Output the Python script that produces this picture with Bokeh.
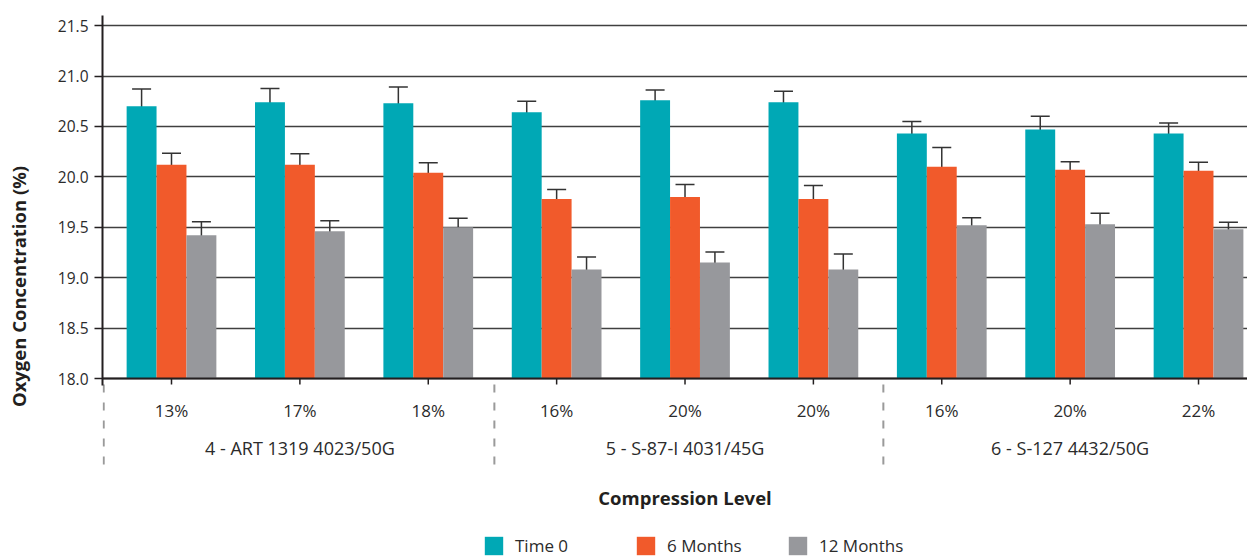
import numpy as np
from bokeh.plotting import figure
from bokeh.models import (ColumnDataSource, Whisker, TeeHead, FixedTicker,
                          Range1d, Legend, LegendItem, Span)
from bokeh.core.properties import value
from bokeh.embed import file_html
from bokeh.resources import INLINE

# ---------------- data ----------------
compression = ["13%", "17%", "18%", "16%", "20%", "20%", "16%", "20%", "22%"]
materials = ["4 - ART 1319 4023/50G", "5 - S-87-I 4031/45G", "6 - S-127 4432/50G"]
material_center_index = [1, 4, 7]
series_names = ["Time 0", "6 Months", "12 Months"]

time0 = [20.70, 20.74, 20.73, 20.64, 20.76, 20.74, 20.43, 20.47, 20.43]
time0_err = [0.17, 0.135, 0.16, 0.11, 0.10, 0.11, 0.12, 0.13, 0.105]
months6 = [20.12, 20.12, 20.04, 19.78, 19.80, 19.78, 20.10, 20.07, 20.06]
months6_err = [0.115, 0.11, 0.10, 0.095, 0.125, 0.135, 0.19, 0.08, 0.085]
months12 = [19.42, 19.46, 19.50, 19.08, 19.15, 19.08, 19.52, 19.53, 19.48]
months12_err = [0.135, 0.105, 0.09, 0.125, 0.105, 0.155, 0.075, 0.11, 0.07]

y_ticks = [18.0, 18.5, 19.0, 19.5, 20.0, 20.5, 21.0, 21.5]
y_tick_labels = ["18.0", "18.5", "19.0", "19.5", "20.0", "20.5", "21.0", "21.5"]
y_min, y_max = 18.0, 21.6
x_title = "Compression Level"
y_title = "Oxygen Concentration (%)"

colors = ["#00A8B5", "#F15A2B", "#97989C"]

# ---------------- layout constants (pixels) ----------------
FONT = "Open Sans"
TXT = "#2b2b2b"
DARK = "#231f20"
W, H = 1247, 557
FRAME_LEFT, FRAME_TOP = 102, 15
AXIS_PX = 378                          # y pixel of the value 18.0
PPU = (AXIS_PX - FRAME_TOP) / (y_max - y_min)      # pixels per y unit
y_lo = y_min - (H - AXIS_PX) / PPU                 # frame extends down to the bottom

x_lo, x_hi = -0.5375, 8.3815
PPX = (W - FRAME_LEFT) / (x_hi - x_lo)             # pixels per category


def below(px):
    """data y for a point px pixels below the 18.0 axis line"""
    return y_min - px / PPU


p = figure(width=W, height=H, output_backend="svg", toolbar_location=None,
           x_range=Range1d(x_lo, x_hi), y_range=Range1d(y_lo, y_max),
           min_border_left=FRAME_LEFT, min_border_right=0, min_border_top=FRAME_TOP,
           min_border_bottom=0)
p.outline_line_color = None
p.xaxis.visible = False
p.xgrid.visible = False

# y axis (bounded to the value range, slightly overshooting below 18.0)
p.yaxis.bounds = (below(7), y_max)
p.yaxis.ticker = FixedTicker(ticks=y_ticks)
p.yaxis.major_label_overrides = {t: l for t, l in zip(y_ticks, y_tick_labels)}
p.yaxis.major_label_text_font = FONT
p.yaxis.major_label_text_font_size = "15.5px"
p.yaxis.major_label_text_color = TXT
p.yaxis.major_label_standoff = 6
p.yaxis.major_tick_out = 8
p.yaxis.major_tick_in = 0
p.yaxis.major_tick_line_color = DARK
p.yaxis.major_tick_line_width = 1.5
p.yaxis.minor_tick_line_color = None
p.yaxis.axis_line_color = DARK
p.yaxis.axis_line_width = 2
p.yaxis.axis_label = y_title
p.yaxis.axis_label_text_font = FONT
p.yaxis.axis_label_text_font_style = "bold"
p.yaxis.axis_label_text_font_size = "18.5px"
p.yaxis.axis_label_text_color = DARK
p.yaxis.axis_label_standoff = 24

p.ygrid.grid_line_color = "#404040"
p.ygrid.grid_line_width = 1.4

# x axis line, ticks and dashed group separators
idx = list(range(len(compression)))
p.add_layout(Span(location=y_min, dimension="width", line_color=DARK, line_width=2))
p.segment(x0=idx, x1=idx, y0=[y_min] * len(idx), y1=[below(6)] * len(idx),
          line_color=DARK, line_width=1.5)
seps = [x_lo + 1.2 / PPX, 2.515, 5.545]
p.segment(x0=seps, x1=seps, y0=[below(6)] * 3, y1=[below(92)] * 3,
          line_color="#9a9a9a", line_width=2, line_dash="8 10")

# category and group labels
p.text(x=idx, y=[below(32)] * len(idx), text=compression, text_align="center",
       text_baseline="middle", text_font=value(FONT), text_font_size="17px", text_color=TXT)
p.text(x=material_center_index, y=[below(69)] * 3, text=materials, text_align="center",
       text_baseline="middle", text_font=value(FONT), text_font_size="18px", text_color=TXT)
p.text(x=[4], y=[below(119)], text=[x_title], text_align="center",
       text_baseline="middle", text_font=value(FONT), text_font_size="18.5px",
       text_font_style="bold", text_color=DARK)

# ---------------- bars & error bars ----------------
values = [time0, months6, months12]
errors = [time0_err, months6_err, months12_err]
offsets = [-0.233, 0.0, 0.233]
renderers = []
for vals, errs, off, col in zip(values, errors, offsets, colors):
    x = np.array(idx, dtype=float) + off
    v = np.array(vals)
    e = np.array(errs)
    src = ColumnDataSource(dict(x=x, top=v, upper=v + e, lower=v - e))
    r = p.vbar(x="x", top="top", bottom=y_min, width=0.233, source=src,
               fill_color=col, line_color=None)
    renderers.append(r)
    w = Whisker(base="x", upper="upper", lower="lower", source=src,
                line_color="#333333", line_width=1.5,
                upper_head=TeeHead(size=19, line_color="#333333", line_width=1.5),
                lower_head=TeeHead(size=19, line_color="#333333", line_width=1.5))
    p.add_layout(w)

legend = Legend(items=[LegendItem(label=n, renderers=[r]) for n, r in zip(series_names, renderers)],
                orientation="horizontal", location=(380, 0),
                glyph_width=23, glyph_height=23, label_standoff=10, label_width=84, spacing=35,
                label_text_font=FONT, label_text_font_size="17px", label_text_color=TXT,
                padding=0, margin=0, border_line_color=None, background_fill_alpha=0)
p.add_layout(legend, "center")

open("out.html", "w").write(file_html(p, INLINE))
